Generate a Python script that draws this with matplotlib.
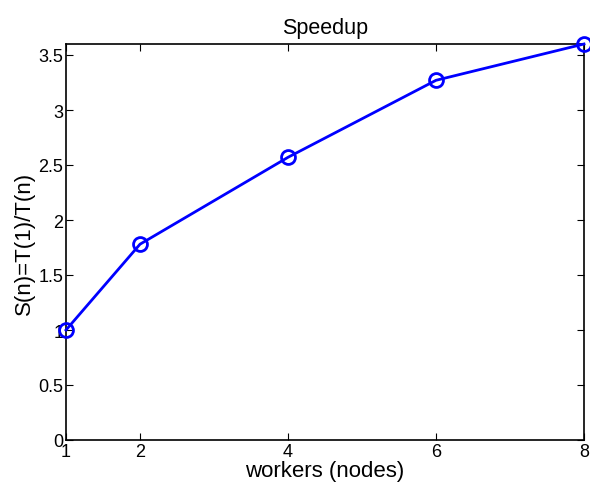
import matplotlib
matplotlib.use("Agg")
import matplotlib.pyplot as plt

workers = [1, 2, 4, 6, 8]
speedup = [1.0, 1.78, 2.57, 3.27, 3.6]
xticks = [1, 2, 4, 6, 8]
yticks = [0, 0.5, 1, 1.5, 2, 2.5, 3, 3.5]
ytick_labels = ["0", "0.5", "1", "1.5", "2", "2.5", "3", "3.5"]

plt.rcParams['font.family'] = ['Liberation Sans', 'DejaVu Sans']

fig = plt.figure(figsize=(5.9, 4.89), dpi=100)
ax = fig.add_axes([66/590, 48/489, (584-66)/590, (441-45)/489])
ax.plot(workers, speedup, color='#0000ff', linewidth=2, marker='o', markersize=10,
        markerfacecolor='none', markeredgewidth=2, clip_on=False, zorder=5)
ax.set_xlim(1, 8)
ax.set_ylim(0, 3.6)
ax.set_xticks(xticks)
ax.set_yticks(yticks)
ax.set_yticklabels(ytick_labels)
ax.tick_params(direction='in', top=True, right=True, labelsize=13, length=5, width=0.8, pad=2)
for s in ax.spines.values():
    s.set_linewidth(1.2)
ax.set_xlabel("workers (nodes)", fontsize=16, labelpad=0)
ax.set_ylabel("S(n)=T(1)/T(n)", fontsize=16, labelpad=2)
ax.set_title("Speedup", fontsize=15.5, pad=8)
fig.savefig("out.png", dpi=100)
